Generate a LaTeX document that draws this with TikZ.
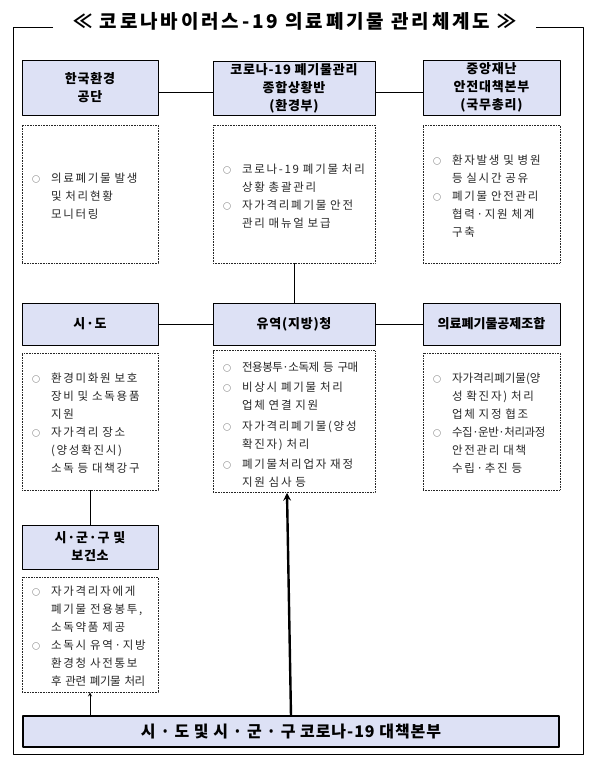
\documentclass[tikz,border=0pt]{standalone}
\usepackage{fontspec}
\usetikzlibrary{positioning}
\setmainfont{Noto Sans CJK KR}
\newfontfamily\krbody[LetterSpace=15]{Noto Sans CJK KR}
\newfontfamily\krsqz[LetterSpace=-4]{Noto Sans CJK KR}
\newfontfamily\krtight{Noto Sans CJK KR}
\newfontfamily\krhead[LetterSpace=6]{Noto Sans CJK KR}
\definecolor{headfill}{HTML}{DDE1F5}
\setlength{\parskip}{5pt}
\newcommand{\bul}{\par\hangindent=19pt\hangafter=1\noindent\makebox[19pt][l]{\fontsize{8}{8}\selectfont ○}}
\newcommand{\mend}{\par\vspace*{5pt}}

\begin{document}
\begin{tikzpicture}[x=1pt, y=-1pt, >=stealth, line join=round,
		head/.style={draw, fill=headfill, line width=0.8pt, inner sep=0pt, align=center, font=\krhead\bfseries\fontsize{13}{18}\selectfont},
		memo/.style={draw=black!85, dash pattern=on 0.7pt off 0.9pt, line width=0.7pt, inner xsep=10pt, inner ysep=0pt, align=left, text=black!85, font=\krbody\fontsize{11.5}{18}\selectfont}]
	\useasboundingbox (0,0) rectangle (599,771);
	% frame and title
	\node[font=\krbody\bfseries\fontsize{19}{20}\selectfont] (title) at (295,21) {≪ 코로나바이러스-19 의료폐기물 관리체계도 ≫};
	\draw[line width=0.8pt] (53,27.5) -| (13,754) -| (583,27.5) -- (536,27.5);
	% top row
	\node[head, minimum width=136pt, minimum height=55pt] (kenv) at (90,87.5) {한국환경\\공단};
	\node[head, minimum width=162pt, minimum height=54pt] (hq) at (294,88) {코로나-19 폐기물관리\\종합상황반\\(환경부)};
	\node[head, minimum width=137pt, minimum height=55pt] (cdsc) at (491.5,87.5) {중앙재난\\안전대책본부\\(국무총리)};
	\node[memo, text width=116pt, minimum height=138pt] (kenvm) at (90,194) {\bul 의료폐기물 발생\newline 및 처리현황\newline 모니터링\mend};
	\node[memo, text width=142pt, minimum height=138pt] (hqm) at (294,194) {\bul 코로나-19 폐기물 처리\newline 상황 총괄관리\bul 자가격리폐기물 안전\newline 관리 매뉴얼 보급\mend};
	\node[memo, text width=117pt, minimum height=138pt] (cdscm) at (491.5,194) {\bul 환자발생 및 병원\newline 등 실시간 공유\bul 폐기물 안전관리\newline 협력·지원 체계\newline 구축\mend};
	% middle row
	\node[head, minimum width=136pt, minimum height=42pt] (sido) at (90,324) {시·도};
	\node[head, minimum width=162pt, minimum height=42pt] (yy) at (294,324) {유역(지방)청};
	\node[head, minimum width=137pt, minimum height=42pt] (gj) at (491.5,324) {{\krtight 의료폐기물공제조합}};
	\node[memo, text width=116pt, minimum height=137pt] (sidom) at (90,421.5) {\bul 환경미화원 보호\newline 장비 및 소독용품\newline 지원\bul 자가격리 장소\newline (양성확진시)\newline 소독 등 대책강구\mend};
	\node[memo, text width=142pt, minimum height=137pt] (yym) at (294,421.5) {\parskip=2.5pt\bul {\krsqz 전용봉투·소독제 등 구매}\bul 비상시 폐기물 처리\newline 업체 연결 지원\bul 자가격리폐기물(양성\newline 확진자) 처리\bul 폐기물처리업자 재정\newline 지원 심사 등\mend};
	\node[memo, text width=117pt, minimum height=137pt] (gjm) at (491.5,421.5) {\bul {\krtight 자가격리폐기물(양}\newline 성 확진자) 처리\newline 업체 지정 협조\bul {\krsqz 수집·운반·처리과정}\newline 안전관리 대책\newline 수립·추진 등\mend};
	% bottom left
	\node[head, minimum width=136pt, minimum height=44pt] (sgg) at (90,547) {시·군·구 및\\보건소};
	\node[memo, text width=116pt, minimum height=115pt] (sggm) at (90,634.5) {\bul 자가격리자에게\newline 폐기물 전용봉투,\newline 소독약품 제공\bul 소독시 유역·지방\newline 환경청 사전통보\newline {\krsqz 후 관련 폐기물 처리}\mend};
	\node[draw, line width=2pt, fill=headfill, minimum width=536pt, minimum height=31pt, inner sep=0pt, font=\krhead\bfseries\fontsize{16}{18}\selectfont] (hqbd) at (291,731.5) {시 · 도 및 시 · 군 · 구 코로나-19 대책본부};
	% connectors
	\draw[line width=0.8pt] ([yshift=-4.5pt]kenv.east) -- ([yshift=-4pt]hq.west);
	\draw[line width=0.8pt] ([yshift=-4pt]hq.east) -- ([yshift=-4.5pt]cdsc.west);
	\draw[line width=0.8pt] (hqm) -- (yy);
	\draw[line width=0.8pt] (sido) -- (yy);
	\draw[line width=0.8pt] (yy) -- (gj);
	\draw[line width=0.8pt] (sidom) -- (sgg);
	\draw[line width=0.8pt, -stealth] (hqbd.north -| sgg) -- (sggm);
	\draw[line width=2.4pt, -stealth] ([yshift=-1pt]hqbd.north) -- ([xshift=-7pt]yym.south);
\end{tikzpicture}
\end{document}
